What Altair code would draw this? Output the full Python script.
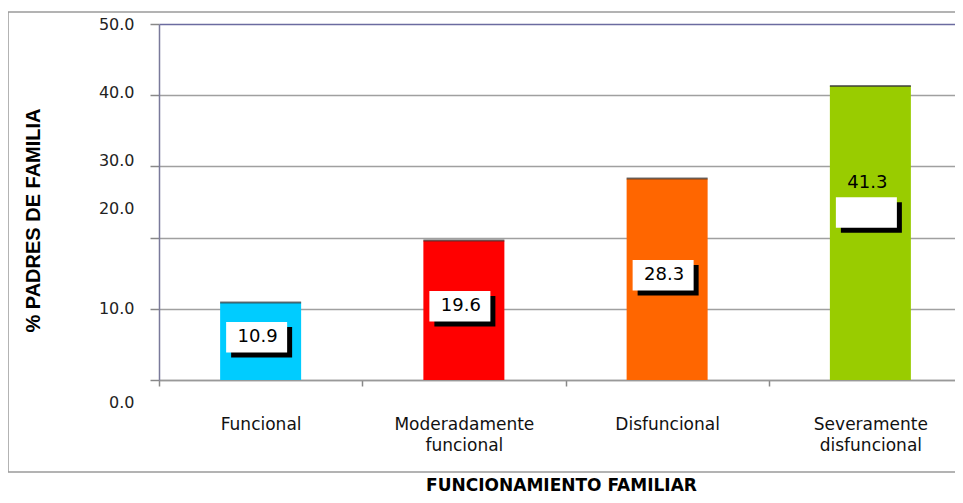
import altair as alt
import pandas as pd

categories = ["Funcional", "Moderadamente funcional", "Disfuncional", "Severamente disfuncional"]
values = [10.9, 19.6, 28.3, 41.3]
bar_colors = ["#00CCFF", "#FF0000", "#FF6600", "#99CC00"]
y_ticks = [0, 10, 20, 30, 40, 50]

df = pd.DataFrame({"cat": categories, "value": values})

x_axis = alt.Axis(
    title="FUNCIONAMIENTO FAMILIAR",
    labelAngle=0,
    labelExpr="split(datum.label, ' ')",
    labelFont="DejaVu Sans",
    labelFontSize=17,
    labelColor="#111111",
    labelPadding=30,
    labelLineHeight=21,
    tickBand="extent",
    tickSize=6,
    tickColor="#888888",
    tickWidth=1.5,
    domainColor="#999999",
    domainWidth=1.5,
    grid=False,
    titleFont="DejaVu Sans",
    titleFontSize=17,
    titleFontWeight="bold",
    titleColor="#000000",
    titleX=402,
    titleY=110,
    titleAnchor="middle",
    titleAlign="center",
    titleBaseline="alphabetic",
)

y_axis = alt.Axis(
    values=y_ticks,
    format=".1f",
    title="% PADRES DE FAMILIA",
    titleFont="Liberation Sans Narrow, Liberation Sans",
    titleFontSize=20,
    titleFontWeight="bold",
    titleColor="#000000",
    titleAngle=270,
    titleX=-126,
    titleY=196,
    titleAlign="center",
    titleBaseline="middle",
    labelFont="DejaVu Sans",
    labelFontSize=16,
    labelColor="#222222",
    labelPadding=16,
    labelBaseline="middle",
    labelOffset={
        "condition": [
            {"test": "datum.value === 20", "value": -29},
            {"test": "datum.value === 30", "value": -6},
            {"test": "datum.value === 40", "value": -3},
            {"test": "datum.value === 0", "value": 22},
        ],
        "value": 0,
    },
    tickSize=9,
    tickColor="#888888",
    tickWidth=1.5,
    domainColor="#7A7A9A",
    domainWidth=1.5,
    grid=True,
    gridColor={"condition": {"test": "datum.value === 50", "value": "#6B6BA0"}, "value": "#A0A0A0"},
    gridWidth=1.5,
)

x_enc = alt.X(
    "cat:N",
    sort=categories,
    scale=alt.Scale(domain=categories, range=[0, 813], paddingInner=0, paddingOuter=0),
    axis=x_axis,
)
y_scale = alt.Scale(domain=[0, 50], nice=False, zero=True)

base = alt.Chart(df)

frame = alt.Chart(pd.DataFrame({"k": [0]})).mark_rect(
    fillOpacity=0, stroke="#9A9A9A", strokeWidth=1.5
).encode(
    x=alt.value(-151), x2=alt.value(900), y=alt.value(-12), y2=alt.value(448)
)

bars = base.mark_bar(size=81).encode(
    x=x_enc,
    y=alt.Y("value:Q", scale=y_scale, axis=y_axis),
    color=alt.Color("cat:N", scale=alt.Scale(domain=categories, range=bar_colors), legend=None),
)

tops = base.mark_tick(size=81, thickness=2, color="#333333").encode(
    x=x_enc,
    y=alt.Y("value:Q", scale=y_scale, axis=y_axis),
)

labels = base.transform_calculate(
    box_y="datum.value / 2 + (datum.cat === 'Severamente disfuncional' ? 2.3 : 0)",
    text_y="datum.value / 2 + (datum.cat === 'Severamente disfuncional' ? 6.5 : 0)",
    label="format(datum.value, '.1f')",
)

rect_path = "M-1,-0.5H1V0.5H-1Z"

shadow = labels.mark_point(
    shape=rect_path, size=3721, filled=True, color="#000000", opacity=1, xOffset=1, yOffset=1
).encode(
    x=x_enc,
    y=alt.Y("box_y:Q", scale=y_scale, axis=y_axis),
)

box = labels.mark_point(
    shape=rect_path, size=3721, filled=True, color="#FFFFFF", opacity=1, xOffset=-4, yOffset=-4
).encode(
    x=x_enc,
    y=alt.Y("box_y:Q", scale=y_scale, axis=y_axis),
)

text = labels.mark_text(
    font="DejaVu Sans", fontSize=18, color="#000000", align="center", baseline="middle", dx=-3, dy=-4
).encode(
    x=x_enc,
    y=alt.Y("text_y:Q", scale=y_scale, axis=y_axis),
    text="label:N",
)

chart = alt.layer(frame, bars, tops, shadow, box, text).properties(
    width=796,
    height=356,
    padding={"left": 151, "top": 16, "right": 0, "bottom": 115},
    autosize=alt.AutoSizeParams(type="none"),
    background="#FFFFFF",
).configure_view(stroke=None)

chart.save("out.html", embed_options={"renderer": "svg", "actions": False})
